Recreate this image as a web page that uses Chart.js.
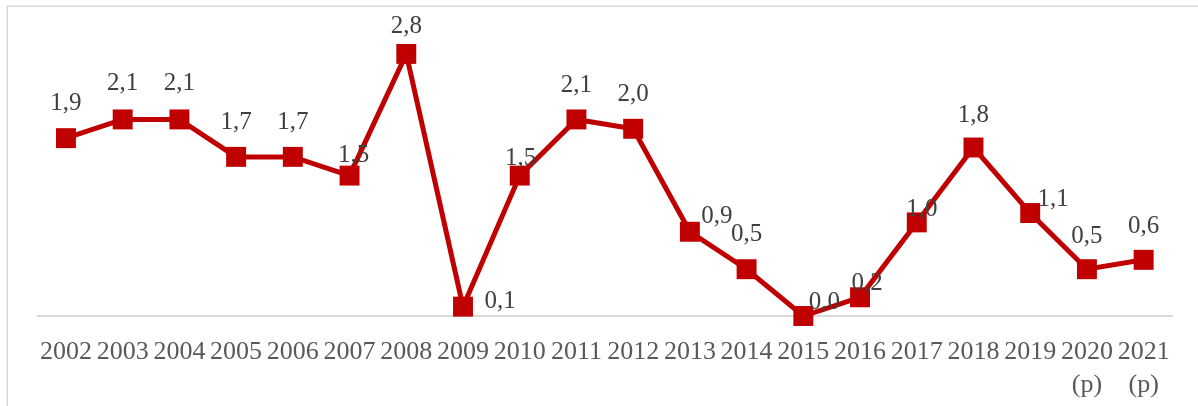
<!DOCTYPE html>
<html>
<head>
<meta charset="utf-8">
<script src="https://cdn.jsdelivr.net/npm/chart.js@4/dist/chart.umd.min.js"></script>
<style>
  html, body { margin: 0; padding: 0; background: #ffffff; }
  #wrap { width: 1198px; height: 406px; position: relative; }
</style>
</head>
<body>
<div id="wrap"><canvas id="c" width="1198" height="406"></canvas></div>
<script>
// ---- data ----
const years = ['2002','2003','2004','2005','2006','2007','2008','2009','2010','2011',
               '2012','2013','2014','2015','2016','2017','2018','2019','2020','2021'];
const yearNotes = ['','','','','','','','','','','','','','','','','','','(p)','(p)'];
const values = [1.9, 2.1, 2.1, 1.7, 1.7, 1.5, 2.8, 0.1, 1.5, 2.1,
                2.0, 0.9, 0.5, 0.0, 0.2, 1.0, 1.8, 1.1, 0.5, 0.6];
const valueLabels = ['1,9','2,1','2,1','1,7','1,7','1,5','2,8','0,1','1,5','2,1',
                     '2,0','0,9','0,5','0,0','0,2','1,0','1,8','1,1','0,5','0,6'];

const categories = years.map((y, i) => yearNotes[i] ? [y, yearNotes[i]] : y);

// ---- label placement (style, relative offsets from each marker) ----
const labelOffsets = [
  [0,-35],[0,-36],[0,-36],[0,-34],[0,-34],[4,-20],[0,-27],[37,-5],[1,-17],[0,-34],
  [0,-34],[27,-15],[0,-35],[21,-14],[7,-14],[5,-13],[0,-32],[23,-14],[0,-33],[0,-33]
];

const RED = '#C00000';
const SERIF = '"Liberation Serif", "Times New Roman", serif';

const frame = {
  id: 'frame',
  beforeDraw(chart) {
    const ctx = chart.ctx;
    ctx.save();
    ctx.fillStyle = '#ffffff';
    ctx.fillRect(0, 0, chart.width, chart.height);
    ctx.strokeStyle = '#d9d9d9';
    ctx.lineWidth = 1.5;
    ctx.strokeRect(7.25, 6.25, chart.width + 20, chart.height + 20);
    ctx.restore();
  }
};

const dataLabels = {
  id: 'dataLabels',
  afterDatasetsDraw(chart) {
    const ctx = chart.ctx;
    const meta = chart.getDatasetMeta(0);
    ctx.save();
    ctx.font = '25px ' + SERIF;
    ctx.fillStyle = '#404040';
    ctx.textAlign = 'center';
    ctx.textBaseline = 'middle';
    meta.data.forEach((pt, i) => {
      const off = labelOffsets[i] || [0, -34];
      ctx.fillText(valueLabels[i], pt.x + off[0], pt.y + off[1]);
    });
    ctx.restore();
  }
};

new Chart(document.getElementById('c'), {
  type: 'line',
  data: {
    labels: categories,
    datasets: [{
      data: values,
      borderColor: RED,
      backgroundColor: RED,
      borderWidth: 5,
      tension: 0,
      pointStyle: 'rect',
      pointRadius: 14.1,
      pointHoverRadius: 14.1,
      pointBackgroundColor: RED,
      pointBorderColor: RED,
      pointBorderWidth: 0,
      clip: false
    }]
  },
  options: {
    responsive: false,
    devicePixelRatio: 1,
    animation: false,
    events: [],
    layout: { padding: { left: 37.6, right: 26, top: 35.2, bottom: 0 } },
    plugins: {
      legend: { display: false },
      tooltip: { enabled: false },
      title: { display: false }
    },
    scales: {
      x: {
        type: 'category',
        offset: true,
        grid: { display: false },
        border: { display: true, color: '#d9d9d9', width: 2 },
        ticks: {
          color: '#595959',
          font: { family: SERIF, size: 26, lineHeight: 1.27 },
          padding: 12,
          maxRotation: 0,
          minRotation: 0,
          autoSkip: false
        },
        afterFit(axis) { axis.height = 90; }
      },
      y: {
        display: false,
        min: 0,
        max: 3
      }
    }
  },
  plugins: [frame, dataLabels]
});
</script>
</body>
</html>
